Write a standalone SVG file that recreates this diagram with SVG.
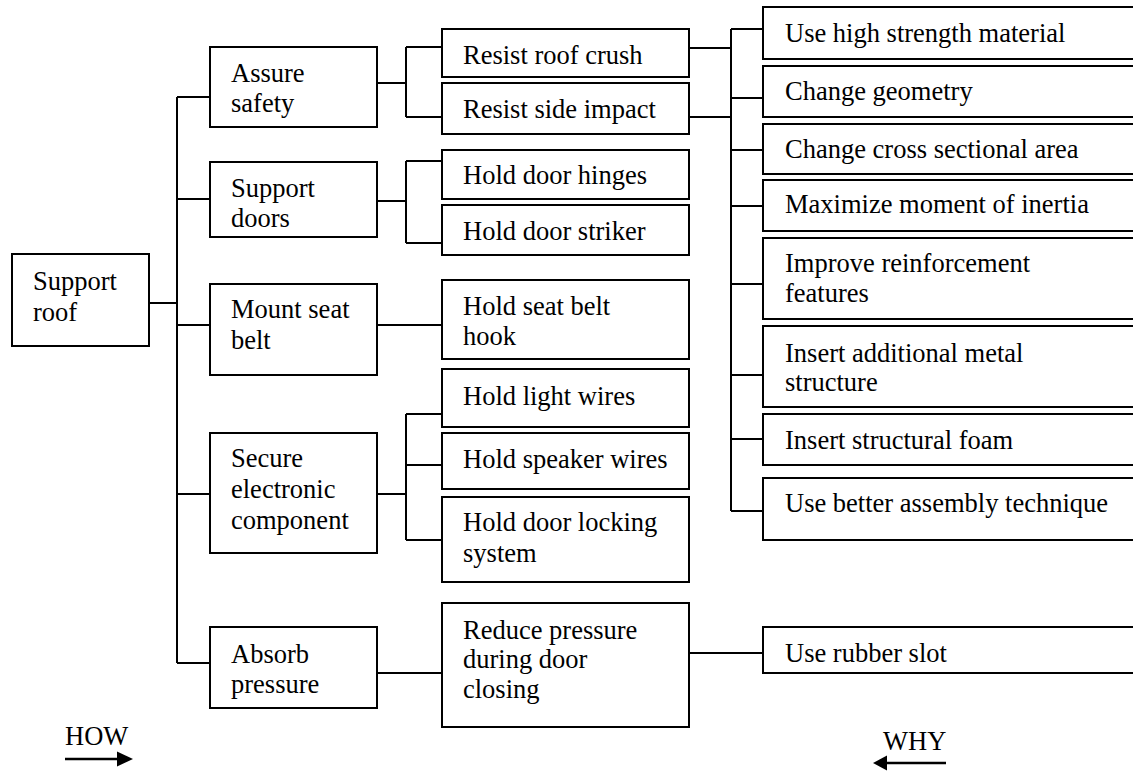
<svg xmlns="http://www.w3.org/2000/svg" width="1133" height="771" viewBox="0 0 1133 771">
<style>
rect.b{fill:#fff;stroke:#000;stroke-width:2}
text{font-family:"Liberation Serif","Times New Roman",serif;font-size:26.5px;fill:#000}
#connectors path{fill:none;stroke:#000;stroke-width:2}
</style>
<rect width="1133" height="771" fill="#fff"/>
<g id="connectors">
<path d="M149,303H177M177,97V663M177,97H210M177,199H210M177,325H210M177,494H210M177,663H210"/>
<path d="M377,83H406M406,47V117M406,47H442M406,117H442"/>
<path d="M377,201H406M406,161V243M406,161H442M406,243H442"/>
<path d="M377,325H442"/>
<path d="M377,494H406M406,414V540M406,414H442M406,465H442M406,540H442"/>
<path d="M377,673H442"/>
<path d="M689,653H763"/>
<path d="M689,48H731M689,117H731M731,29V511M731,29H763M731,98H763M731,150H763M731,206H763M731,284H763M731,375H763M731,439H763M731,511H763"/>
</g>
<g id="n_support_roof"><rect class="b" x="12" y="254" width="137" height="92"/><text x="33" y="290">Support</text><text x="33" y="321">roof</text></g>
<g id="n_assure_safety"><rect class="b" x="210" y="47" width="167" height="80"/><text x="231" y="82">Assure</text><text x="231" y="112">safety</text></g>
<g id="n_support_doors"><rect class="b" x="210" y="162" width="167" height="75"/><text x="231" y="197">Support</text><text x="231" y="227">doors</text></g>
<g id="n_mount_seat_belt"><rect class="b" x="210" y="284" width="167" height="91"/><text x="231" y="318">Mount seat</text><text x="231" y="349">belt</text></g>
<g id="n_secure"><rect class="b" x="210" y="433" width="167" height="120"/><text x="231" y="467">Secure</text><text x="231" y="498">electronic</text><text x="231" y="529">component</text></g>
<g id="n_absorb"><rect class="b" x="210" y="627" width="167" height="81"/><text x="231" y="663">Absorb</text><text x="231" y="693">pressure</text></g>
<g id="n_resist_roof"><rect class="b" x="442" y="29" width="247" height="48"/><text x="463" y="64">Resist roof crush</text></g>
<g id="n_resist_side"><rect class="b" x="442" y="83" width="247" height="51"/><text x="463" y="118">Resist side impact</text></g>
<g id="n_hinges"><rect class="b" x="442" y="150" width="247" height="49"/><text x="463" y="184">Hold door hinges</text></g>
<g id="n_striker"><rect class="b" x="442" y="205" width="247" height="50"/><text x="463" y="240">Hold door striker</text></g>
<g id="n_hook"><rect class="b" x="442" y="280" width="247" height="79"/><text x="463" y="315">Hold seat belt</text><text x="463" y="345">hook</text></g>
<g id="n_light"><rect class="b" x="442" y="369" width="247" height="58"/><text x="463" y="405">Hold light wires</text></g>
<g id="n_speaker"><rect class="b" x="442" y="433" width="247" height="56"/><text x="463" y="468">Hold speaker wires</text></g>
<g id="n_locking"><rect class="b" x="442" y="497" width="247" height="85"/><text x="463" y="531">Hold door locking</text><text x="463" y="562">system</text></g>
<g id="n_reduce"><rect class="b" x="442" y="603" width="247" height="124"/><text x="463" y="639">Reduce pressure</text><text x="463" y="668">during door</text><text x="463" y="698">closing</text></g>
<g id="n_material"><rect class="b" x="763" y="7" width="380" height="52"/><text x="785" y="42">Use high strength material</text></g>
<g id="n_geometry"><rect class="b" x="763" y="66" width="380" height="51"/><text x="785" y="100">Change geometry</text></g>
<g id="n_cross"><rect class="b" x="763" y="124" width="380" height="50"/><text x="785" y="158">Change cross sectional area</text></g>
<g id="n_inertia"><rect class="b" x="763" y="180" width="380" height="51"/><text x="785" y="213">Maximize moment of inertia</text></g>
<g id="n_reinforce"><rect class="b" x="763" y="238" width="380" height="81"/><text x="785" y="272">Improve reinforcement</text><text x="785" y="302">features</text></g>
<g id="n_metal"><rect class="b" x="763" y="326" width="380" height="81"/><text x="785" y="362">Insert additional metal</text><text x="785" y="391">structure</text></g>
<g id="n_foam"><rect class="b" x="763" y="414" width="380" height="51"/><text x="785" y="449">Insert structural foam</text></g>
<g id="n_assembly"><rect class="b" x="763" y="478" width="380" height="62"/><text x="785" y="512">Use better assembly technique</text></g>
<g id="n_rubber"><rect class="b" x="763" y="627" width="380" height="46"/><text x="785" y="662">Use rubber slot</text></g>
<g id="legend_how"><text x="65" y="745">HOW</text><path d="M65,759H118" stroke="#000" stroke-width="2.5"/><polygon points="117,751.5 133,759 117,766.5" fill="#000"/></g>
<g id="legend_why"><text x="883" y="750">WHY</text><path d="M946,763H886" stroke="#000" stroke-width="2.5"/><polygon points="887,755.5 873,763 887,770.5" fill="#000"/></g>
</svg>
